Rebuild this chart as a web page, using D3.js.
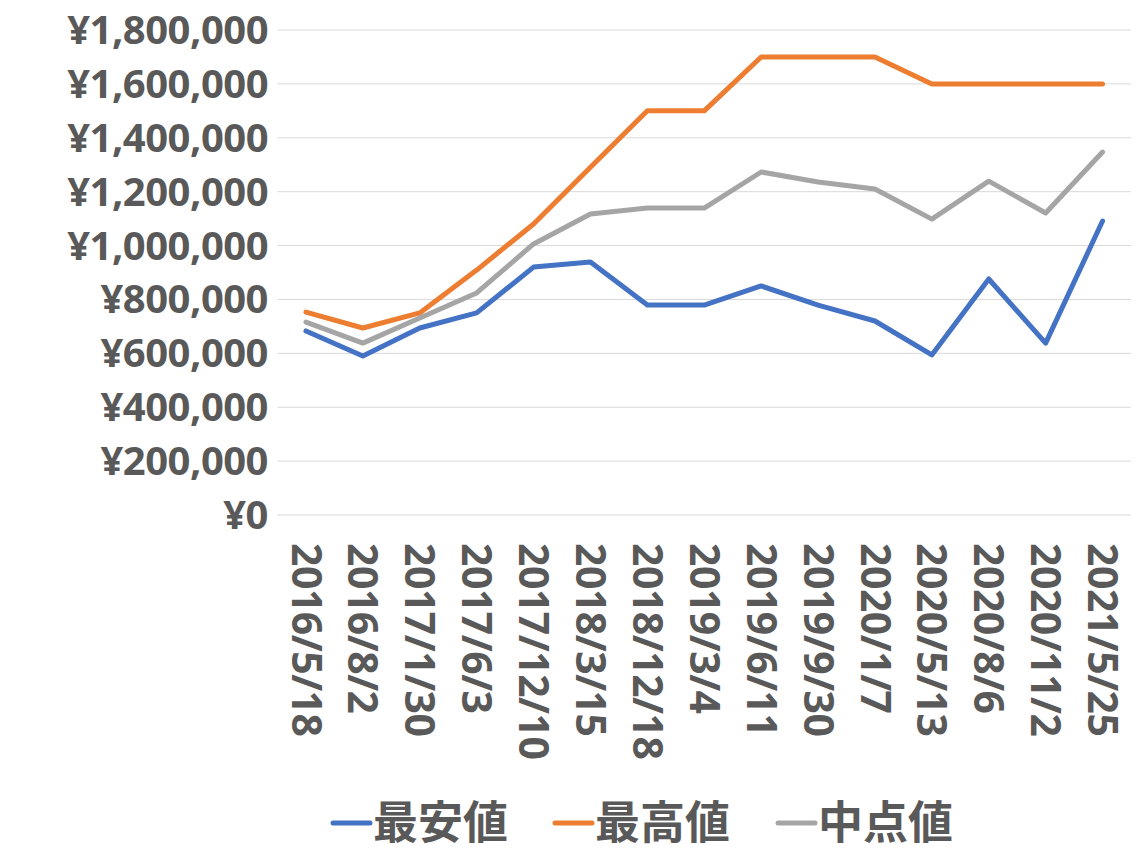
<!DOCTYPE html>
<html><head><meta charset="utf-8">
<script src="https://cdn.jsdelivr.net/npm/d3@7"></script>
<style>body{margin:0;background:#fff}</style>
</head><body>
<svg id="c" width="1136" height="859"></svg>
<script>
const categories=["2016/5/18","2016/8/2","2017/1/30","2017/6/3","2017/12/10","2018/3/15","2018/12/18","2019/3/4","2019/6/11","2019/9/30","2020/1/7","2020/5/13","2020/8/6","2020/11/2","2021/5/25"];
const minVals=[683000,590000,694000,750000,920000,939000,779000,779000,850000,779000,720000,594000,876000,638000,1091000];
const maxVals=[753000,694000,750000,909000,1080000,1291000,1500000,1500000,1700000,1700000,1700000,1600000,1600000,1600000,1600000];
const midVals=[716000,638000,731000,824000,1006000,1117000,1139000,1139000,1273000,1236000,1210000,1098000,1239000,1121000,1347000];
const seriesNames=["最安値","最高値","中点値"];
const colors=["#4472C4","#ED7D31","#A5A5A5"];
const yTicks=[0,200000,400000,600000,800000,1000000,1200000,1400000,1600000,1800000];

const svg=d3.select("#c");
const font="'Open Sans','Noto Sans CJK JP',sans-serif";
const x=d3.scaleBand().domain(categories).range([277.5,1131]);
const y=d3.scaleLinear().domain([0,1800000]).range([515,30]);
const g=svg.append("g");
g.selectAll("line.grid").data(yTicks).join("line")
 .attr("x1",277.5).attr("x2",1131).attr("y1",d=>y(d)).attr("y2",d=>y(d))
 .attr("stroke","#d9d9d9").attr("stroke-width",1);
const fmt=d=>"¥"+d3.format(",")(d);
g.selectAll("text.yl").data(yTicks).join("text")
 .attr("x",268).attr("y",d=>y(d)).attr("dy","0.35em").attr("text-anchor","end")
 .attr("font-family",font).attr("font-weight","bold").attr("font-size",40).attr("letter-spacing",-0.5).attr("fill","#595959")
 .text(fmt);
g.selectAll("text.xl").data(categories).join("text")
 .attr("transform",d=>`translate(${x(d)+x.bandwidth()/2},543) rotate(90)`)
 .attr("dy","0.35em").attr("text-anchor","start")
 .attr("font-family",font).attr("font-weight","bold").attr("font-size",41).attr("letter-spacing",-0.5).attr("fill","#595959")
 .text(d=>d);
const line=d3.line().x((d,i)=>x(categories[i])+x.bandwidth()/2).y(d=>y(d));
[minVals,maxVals,midVals].forEach((s,i)=>{
 g.append("path").datum(s).attr("d",line).attr("fill","none")
  .attr("stroke",colors[i]).attr("stroke-width",5).attr("stroke-linejoin","round").attr("stroke-linecap","round");
});
const lx=[333,555,778];
seriesNames.forEach((n,i)=>{
 g.append("line").attr("x1",lx[i]).attr("x2",lx[i]+37).attr("y1",823).attr("y2",823)
  .attr("stroke",colors[i]).attr("stroke-width",5).attr("stroke-linecap","round");
 g.append("text").attr("x",lx[i]+40).attr("y",823).attr("dy","0.35em")
  .attr("font-family",font).attr("font-weight","bold").attr("font-size",45).attr("fill","#595959").text(n);
});
</script>
</body></html>
